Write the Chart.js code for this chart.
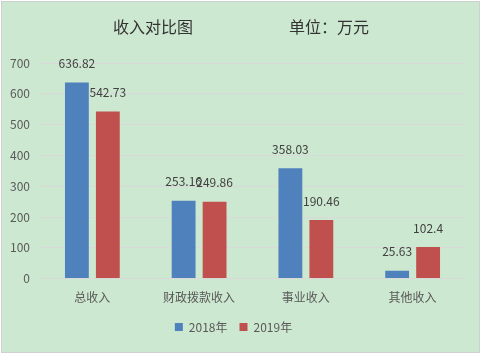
<!DOCTYPE html>
<html><head><meta charset="utf-8">
<script src="https://cdn.jsdelivr.net/npm/chart.js@4/dist/chart.umd.min.js"></script>
<style>html,body{margin:0;padding:0;background:#fff;}#wrap{width:483px;height:357px;}</style>
</head><body><div id="wrap"><canvas id="c" width="483" height="357"></canvas></div>
<script>
const categories = ["总收入", "财政拨款收入", "事业收入", "其他收入"];
const series2018 = [636.82, 253.16, 358.03, 25.63];
const series2019 = [542.73, 249.86, 190.46, 102.4];
const seriesNames = ["2018年", "2019年"];
const yTicks = [0, 100, 200, 300, 400, 500, 600, 700];

const FONT = '"Noto Sans CJK SC", "DejaVu Sans", sans-serif';

const bgPlugin = {
  id: 'bg',
  beforeDraw(chart) {
    const ctx = chart.ctx;
    ctx.save();
    ctx.fillStyle = '#cde8d0';
    ctx.fillRect(1, 1, 479, 352);
    ctx.strokeStyle = '#d0d0d0';
    ctx.lineWidth = 1;
    ctx.strokeRect(1.5, 1.5, 478, 351);
    ctx.fillStyle = '#333';
    ctx.font = '16px ' + FONT;
    ctx.textAlign = 'center';
    ctx.textBaseline = 'middle';
    ctx.fillText('收入对比图', 153, 27);
    ctx.fillText('单位：万元', 329, 27);
    ctx.restore();
  }
};

const labelPlugin = {
  id: 'labels',
  afterDatasetsDraw(chart) {
    const ctx = chart.ctx;
    ctx.save();
    ctx.fillStyle = '#404040';
    ctx.font = '12px ' + FONT;
    ctx.textAlign = 'center';
    ctx.textBaseline = 'middle';
    chart.data.datasets.forEach((ds, i) => {
      const meta = chart.getDatasetMeta(i);
      meta.data.forEach((bar, j) => {
        ctx.fillText(String(ds.data[j]), bar.x, bar.y - 19);
      });
    });
    ctx.restore();
  }
};

new Chart(document.getElementById('c'), {
  type: 'bar',
  data: {
    labels: categories,
    datasets: [
      { label: seriesNames[0], data: series2018, backgroundColor: '#4f81bd', barPercentage: 0.77, categoryPercentage: 0.58 },
      { label: seriesNames[1], data: series2019, backgroundColor: '#c0504d', barPercentage: 0.77, categoryPercentage: 0.58 }
    ]
  },
  options: {
    responsive: false,
    animation: false,
    layout: { padding: { top: 63, left: 1, right: 17, bottom: 14 } },
    plugins: {
      legend: {
        position: 'bottom',
        labels: { boxWidth: 8, boxHeight: 8, padding: 12, color: '#595959', font: { size: 12, family: FONT } }
      },
      title: { display: false },
      tooltip: { enabled: false }
    },
    scales: {
      x: {
        grid: { display: false },
        border: { color: '#d9d9d9' },
        ticks: { color: '#595959', font: { size: 12, family: FONT }, padding: 4 }
      },
      y: {
        min: 0, max: 700,
        afterBuildTicks(axis) { axis.ticks = yTicks.map(v => ({ value: v })); },
        grid: { color: '#d9d9d9', drawTicks: false },
        border: { display: false },
        ticks: { color: '#595959', font: { size: 12, family: FONT }, padding: 9 }
      }
    }
  },
  plugins: [bgPlugin, labelPlugin]
});
</script></body></html>
